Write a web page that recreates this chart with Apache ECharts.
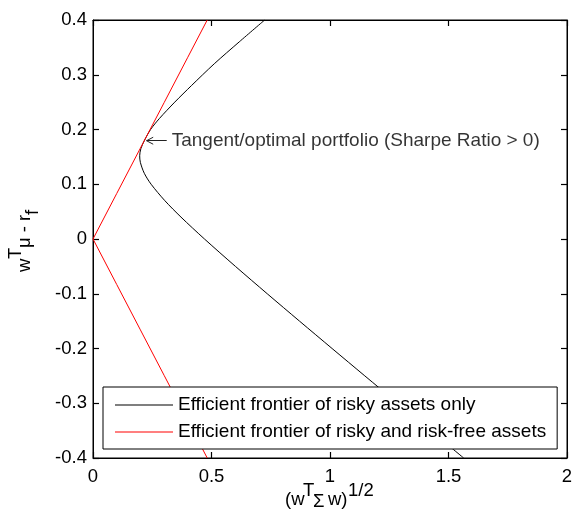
<!DOCTYPE html>
<html><head><meta charset="utf-8">
<script src="https://cdn.jsdelivr.net/npm/echarts@6/dist/echarts.min.js"></script>
<style>html,body{margin:0;padding:0;background:#fff}#c{width:572px;height:514px}</style>
</head><body><div id="c"></div>
<script>
// Efficient frontier of risky assets only (x = sigma, y = excess return)
const riskyX = [0.7244, 0.6169, 0.5116, 0.415, 0.345, 0.280, 0.243, 0.217, 0.202, 0.197, 0.1998, 0.2165, 0.2453, 0.3032, 0.3713, 0.4704, 0.6010, 0.7352, 0.8714, 1.0088, 1.1469, 1.2856, 1.4247, 1.5640];
const riskyY = [0.40, 0.36, 0.32, 0.28, 0.25, 0.22, 0.20, 0.18, 0.165, 0.152, 0.14, 0.12, 0.10, 0.07, 0.04, 0.0, -0.05, -0.10, -0.15, -0.20, -0.25, -0.30, -0.35, -0.40];
// Efficient frontier with risk-free asset (capital market line, both branches)
const cmlX = [0.482, 0.40, 0.30, 0.20, 0.10, 0.0, 0.10, 0.20, 0.30, 0.40, 0.482];
const cmlY = [0.400, 0.332, 0.249, 0.166, 0.083, 0.0, -0.083, -0.166, -0.249, -0.332, -0.400];
// Annotation
const annotText = 'Tangent/optimal portfolio (Sharpe Ratio > 0)';
const annotPos = [0.332, 0.1795];
const arrowTail = [0.311, 0.1795];
const arrowTip = [0.226, 0.1795];
const arrowBarbUp = [0.254, 0.1859];
const arrowBarbDown = [0.254, 0.1731];
// Axes
const xTicks = [0, 0.5, 1, 1.5, 2];
const yTicks = [-0.4, -0.3, -0.2, -0.1, 0, 0.1, 0.2, 0.3, 0.4];
const seriesNames = ['Efficient frontier of risky assets only', 'Efficient frontier of risky and risk-free assets'];

const zip = (a, b) => a.map((v, i) => [v, b[i]]);
const font = 'Liberation Sans, Arial, sans-serif';
const FS = 18.5;

function ax(kind, pos, showLabel) {
  return {
    type: 'value',
    min: kind === 'x' ? xTicks[0] : yTicks[0],
    max: kind === 'x' ? xTicks[xTicks.length - 1] : yTicks[yTicks.length - 1],
    interval: kind === 'x' ? 0.5 : 0.1,
    position: pos,
    axisLine: { show: true, onZero: false, lineStyle: { color: '#000', width: 1 } },
    axisTick: { show: true, inside: true, length: 6, lineStyle: { color: '#000', width: 1.2 } },
    splitLine: { show: false },
    axisLabel: showLabel ? {
      fontFamily: font, fontSize: FS, color: '#000', margin: kind === 'x' ? 9 : 6,
      formatter: v => String(Math.round(v * 10) / 10)
    } : { show: false }
  };
}

// axis titles as plain text pieces (super/subscripts offset)
const tStyle = (text, x, y) => ({
  type: 'text', x: x, y: y, silent: true,
  style: { text: text, fill: '#000', font: FS + 'px ' + font, align: 'left', verticalAlign: 'middle' }
});
const titles = [
  tStyle('(w', 285, 500), tStyle('T', 303, 491), tStyle('Σ', 313, 502), tStyle('w)', 328, 500), tStyle('1/2', 348, 491),
  Object.assign(tStyle('w', 25, 272), { rotation: Math.PI / 2 }),
  Object.assign(tStyle('T', 16, 259), { rotation: Math.PI / 2 }),
  Object.assign(tStyle('μ - r', 25, 248), { rotation: Math.PI / 2 }),
  Object.assign(tStyle('f', 33, 215), { rotation: Math.PI / 2 })
];

const chart = echarts.init(document.getElementById('c'));
chart.setOption({
  animation: false,
  grid: { left: 93, top: 20, right: 5, bottom: 56, outerBoundsMode: 'none', show: true, borderColor: '#000', borderWidth: 1, backgroundColor: 'transparent' },
  xAxis: [ax('x', 'bottom', true), ax('x', 'top', false)],
  yAxis: [ax('y', 'left', true), ax('y', 'right', false)],
  graphic: titles,
  legend: {
    data: seriesNames,
    orient: 'vertical', left: 103, top: 387,
    padding: [8, 11, 7, 12], itemGap: 7,
    itemWidth: 58, itemHeight: 1, icon: 'rect',
    borderColor: '#000', borderWidth: 1, backgroundColor: '#fff',
    textStyle: { fontFamily: font, fontSize: 19, color: '#000', lineHeight: 20 },
    selectedMode: false
  },
  series: [
    {
      name: seriesNames[0], type: 'line', data: zip(riskyX, riskyY), showSymbol: false, smooth: 0.3,
      lineStyle: { color: '#000', width: 1 }, itemStyle: { color: '#000' }
    },
    {
      name: seriesNames[1], type: 'line', data: zip(cmlX, cmlY), showSymbol: false,
      lineStyle: { color: '#ff0000', width: 1 }, itemStyle: { color: '#ff0000' }
    },
    {
      name: 'annotation', type: 'scatter', xAxisIndex: 1, yAxisIndex: 1, data: [annotPos], symbolSize: 0, silent: true,
      label: { show: true, position: 'right', distance: 0, formatter: annotText, fontFamily: font, fontSize: 19, color: '#000' },
      markLine: {
        silent: true, symbol: ['none', 'none'], animation: false,
        lineStyle: { color: '#222', width: 1, type: 'solid' },
        label: { show: false },
        data: [
          [{ coord: arrowTail }, { coord: arrowTip }],
          [{ coord: arrowTip }, { coord: arrowBarbUp }],
          [{ coord: arrowTip }, { coord: arrowBarbDown }]
        ]
      }
    }
  ]
});
</script></body></html>
